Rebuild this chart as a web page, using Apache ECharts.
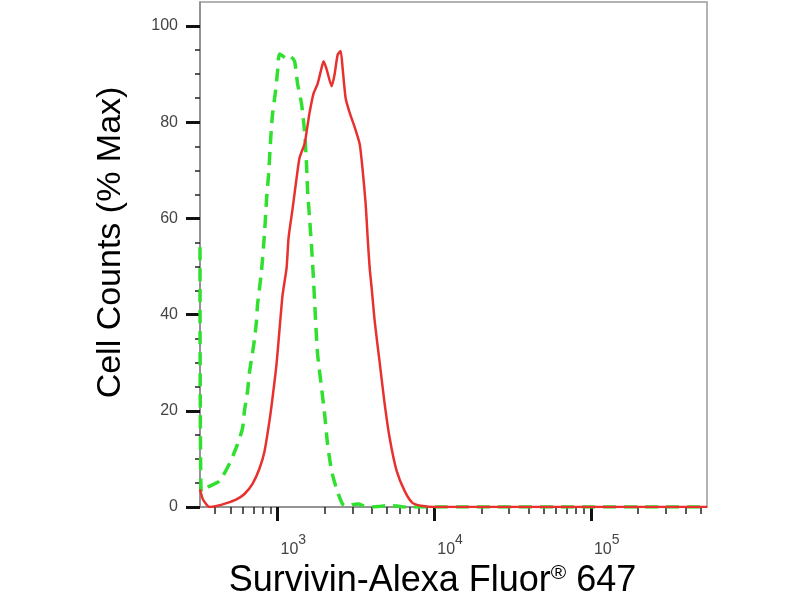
<!DOCTYPE html>
<html>
<head>
    <meta charset="utf-8"/>
    <title>Survivin flow histogram</title>
    <script src="https://cdn.jsdelivr.net/npm/echarts@6/dist/echarts.min.js"></script>
    <style>
        html, body { margin: 0; padding: 0; background: #fff; }
        #chart { width: 800px; height: 600px; }
    </style>
</head>
<body>
<div id="chart"></div>
<script>
    // fluorescence channel values (x) and % of max (y)
    var greenX = [320, 326, 362, 426, 493, 555, 598, 615, 643, 662, 692, 713, 734, 745, 767, 790, 826, 851, 876, 902, 929, 971, 1000, 1030, 1142, 1193, 1284, 1342, 1423, 1488, 1532, 1555, 1601, 1649, 1698, 1749, 1801, 1910, 1997, 2087, 2213, 2382, 2602, 2800, 3000, 3300, 3500, 3800, 4400, 5000, 5800, 6500, 550000];
    var greenY = [54, 3.2, 4.2, 5.4, 9, 13, 16.4, 20, 24, 28, 32, 35, 38.7, 42, 45.5, 49, 57, 64, 69, 76, 81.7, 86.5, 90.6, 94.2, 93.3, 93.8, 92.7, 88, 83.8, 78, 71, 65.7, 60, 54, 47, 38.7, 31.8, 24.7, 19.3, 13, 7.5, 3.7, 0.6, 0.1, 0.5, 0.6, 0.3, 0, 0.1, 0.3, 0.2, 0, 0];

    var redX = [320, 335, 368, 408, 472, 547, 615, 692, 767, 826, 889, 929, 985, 1030, 1076, 1142, 1176, 1247, 1323, 1382, 1488, 1532, 1601, 1698, 1801, 1910, 1967, 2057, 2213, 2313, 2418, 2527, 2602, 2720, 2884, 3105, 3342, 3493, 3650, 3758, 3871, 4000, 4166, 4485, 4827, 5196, 5755, 6479, 7289, 8444, 10000, 550000];
    var redY = [3.7, 1.5, 0, 0.2, 0.8, 1.6, 2.7, 4.8, 8, 11.6, 18, 22.7, 29.7, 37, 44, 49.7, 56, 62, 68.4, 72.6, 75.5, 78, 82, 86, 88, 91.3, 92.7, 91, 87.5, 90, 94, 94.8, 91.2, 85, 82, 79, 75.5, 70, 63, 56, 49.7, 45, 38.7, 30, 21.4, 14.3, 7.5, 3.3, 0.8, 0.2, 0, 0];

    // axis ticks
    var xMajor = [1000, 10000, 100000];
    var xMinor = [400, 500, 600, 700, 800, 900, 2000, 3000, 4000, 5000, 6000, 7000, 8000, 9000,
        20000, 30000, 40000, 50000, 60000, 70000, 80000, 90000, 200000, 300000, 400000, 500000];
    var yMajor = [0, 20, 40, 60, 80, 100];
    var yMinor = [5, 10, 15, 25, 30, 35, 45, 50, 55, 65, 70, 75, 85, 90, 95];

    function pairs(xs, ys) {
        var out = [];
        for (var i = 0; i < xs.length; i++) out.push([xs[i], ys[i]]);
        return out;
    }

    var font = '"Liberation Sans", Arial, sans-serif';
    var xMin = 320, xMax = 550000;

    var myChart = echarts.init(document.getElementById('chart'));
    var option = {
        animation: false,
        grid: {
            left: 200,
            right: 93,
            top: 2,
            bottom: 93,
            outerBoundsMode: 'none',
            show: true,
            borderColor: '#9a9a9a',
            borderWidth: 1.5
        },
        xAxis: [{
            type: 'log',
            min: xMin,
            max: xMax,
            position: 'bottom',
            name: 'Survivin-Alexa Fluor{r|®} 647',
            nameLocation: 'middle',
            nameGap: 49,
            nameTextStyle: {
                fontFamily: font,
                fontSize: 36,
                color: '#000',
                padding: [0, 42, 0, 0],
                rich: {
                    r: {fontFamily: font, fontSize: 21, color: '#000', padding: [0, 0, 15, 0]}
                }
            },
            axisLine: {show: true, lineStyle: {color: '#8a8a8a', width: 1.5}},
            axisTick: {show: true, customValues: xMajor, length: 14, lineStyle: {color: '#111', width: 3}},
            axisLabel: {
                show: true,
                customValues: xMajor,
                margin: 26,
                align: 'left',
                padding: [0, 0, 0, 3],
                formatter: function (v) {
                    return '{b|10}{s|' + Math.round(Math.log10(v)) + '}';
                },
                rich: {
                    b: {fontFamily: font, fontSize: 16, color: '#444', padding: [9, 0, 0, 0], verticalAlign: 'bottom'},
                    s: {fontFamily: font, fontSize: 14, color: '#444', verticalAlign: 'top'}
                }
            },
            splitLine: {show: false},
            minorTick: {show: false}
        }, {
            type: 'log',
            min: xMin,
            max: xMax,
            position: 'bottom',
            axisLine: {show: false},
            axisTick: {show: true, customValues: xMinor, length: 7, lineStyle: {color: '#222', width: 1.5}},
            axisLabel: {show: false},
            splitLine: {show: false}
        }],
        yAxis: [{
            type: 'value',
            min: 0,
            max: 105,
            name: 'Cell Counts (% Max)',
            nameLocation: 'middle',
            nameGap: 72,
            nameRotate: 90,
            nameTextStyle: {
                fontFamily: font,
                fontSize: 34,
                color: '#000',
                padding: [0, 0, 0, 24]
            },
            axisLine: {show: true, lineStyle: {color: '#8a8a8a', width: 1.5}},
            axisTick: {show: true, customValues: yMajor, length: 14, lineStyle: {color: '#111', width: 3}},
            axisLabel: {
                show: true,
                customValues: yMajor,
                margin: 22,
                fontFamily: font,
                fontSize: 16,
                color: '#444'
            },
            splitLine: {show: false}
        }, {
            type: 'value',
            min: 0,
            max: 105,
            position: 'left',
            axisLine: {show: false},
            axisTick: {show: true, customValues: yMinor, length: 5, lineStyle: {color: '#222', width: 1.5}},
            axisLabel: {show: false},
            splitLine: {show: false}
        }],
        series: [{
            name: 'isotype',
            type: 'line',
            xAxisIndex: 0,
            yAxisIndex: 0,
            symbol: 'none',
            smooth: 0.2,
            data: pairs(greenX, greenY),
            lineStyle: {color: '#2fe02f', width: 3.5, type: [13, 8]}
        }, {
            name: 'Survivin',
            type: 'line',
            xAxisIndex: 0,
            yAxisIndex: 0,
            symbol: 'none',
            smooth: 0.2,
            data: pairs(redX, redY),
            lineStyle: {color: '#e8312f', width: 2.5}
        }]
    };
    myChart.setOption(option);
</script>
</body>
</html>
